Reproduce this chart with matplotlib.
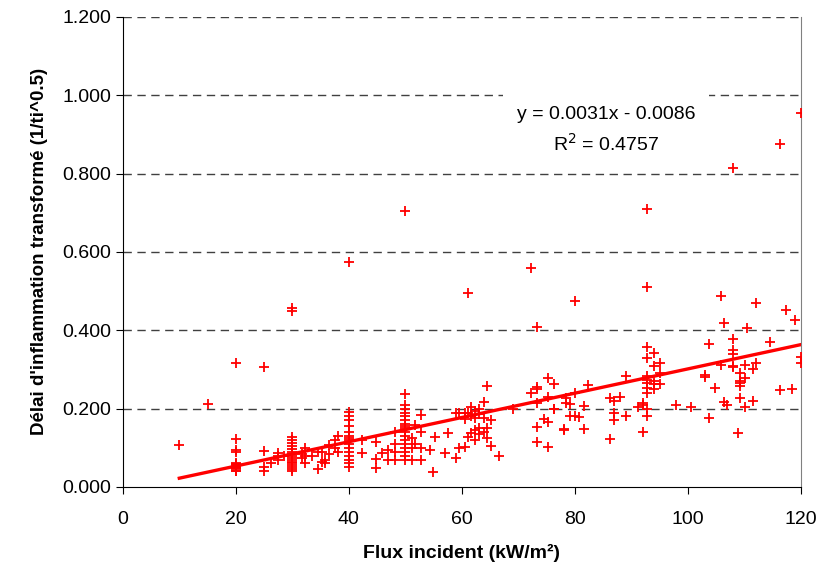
import matplotlib
matplotlib.use("Agg")
import matplotlib.pyplot as plt
import numpy as np

# flux incident values (kW/m2), one entry per column of points
group_flux = [10, 15, 20, 25, 26.3, 27.4, 28.5, 30, 31.7, 32.3, 33.5, 34.5, 35.2, 35.8,
              36.5, 37.5, 38, 40, 42.3, 44.8, 45.9, 47, 48.2, 50, 51.2, 51.7, 52.7,
              54.3, 54.9, 55.2, 57, 57.5, 59, 59.5, 60.5, 61.1, 61.7, 62.3, 63, 63.9,
              64.4, 65.2, 66.5, 69, 72.3, 73.3, 74.5, 75.3, 76.3, 78, 78.5, 79.2, 80,
              80.8, 81.6, 82.4, 86.2, 87, 88, 89, 91.2, 92.1, 92.8, 94, 95, 97.9,
              100.6, 103, 103.8, 104.8, 105.8, 106.4, 107, 108, 108.9, 109.3, 110.1,
              110.5, 111.6, 112.1, 114.5, 116.3, 117.3, 118.5, 119, 120]

# transformed ignition delay (1/ti^0.5) for each column
group_delay = [
    [0.108],
    [0.212],
    [0.317, 0.122, 0.095, 0.088, 0.062, 0.058, 0.055, 0.052, 0.05, 0.048, 0.045, 0.042, 0.04],
    [0.307, 0.093, 0.05, 0.04],
    [0.06],
    [0.086, 0.078, 0.07],
    [0.08],
    [0.458, 0.448, 0.128, 0.12, 0.112, 0.105, 0.098, 0.09, 0.085, 0.08, 0.075, 0.07,
     0.065, 0.06, 0.055, 0.05, 0.045, 0.04],
    [0.075, 0.085],
    [0.1, 0.06, 0.08],
    [0.078],
    [0.088, 0.045],
    [0.09, 0.065],
    [0.06, 0.07],
    [0.083, 0.108],
    [0.1, 0.12],
    [0.13, 0.088],
    [0.575, 0.192, 0.18, 0.17, 0.155, 0.14, 0.13, 0.125, 0.12, 0.11, 0.1, 0.09, 0.08,
     0.07, 0.06, 0.052],
    [0.12, 0.087],
    [0.116, 0.072, 0.048],
    [0.087],
    [0.095, 0.07],
    [0.11, 0.09, 0.07, 0.141],
    [0.705, 0.237, 0.21, 0.2, 0.19, 0.18, 0.17, 0.16, 0.155, 0.15, 0.14, 0.13, 0.12,
     0.11, 0.1, 0.09, 0.08, 0.07],
    [0.125, 0.1, 0.07],
    [0.158, 0.11],
    [0.184, 0.14, 0.1, 0.069],
    [0.094],
    [0.039],
    [0.128],
    [0.087],
    [0.139],
    [0.073, 0.189],
    [0.1, 0.19],
    [0.103, 0.173, 0.189],
    [0.494, 0.128, 0.19],
    [0.205, 0.182, 0.139],
    [0.195, 0.175, 0.146, 0.12],
    [0.2, 0.185, 0.15, 0.135],
    [0.218, 0.176, 0.14],
    [0.258, 0.15, 0.125],
    [0.17, 0.105],
    [0.079],
    [0.2],
    [0.558, 0.24],
    [0.408, 0.256, 0.25, 0.215, 0.152, 0.116],
    [0.173],
    [0.279, 0.23, 0.167, 0.103],
    [0.263, 0.2, 0.2],
    [0.147, 0.145],
    [0.226, 0.215],
    [0.18, 0.213],
    [0.475, 0.24, 0.18],
    [0.178],
    [0.147, 0.207],
    [0.26],
    [0.226, 0.122],
    [0.22, 0.19, 0.172],
    [0.23],
    [0.181, 0.283],
    [0.205],
    [0.214, 0.209, 0.141],
    [0.71, 0.511, 0.358, 0.33, 0.282, 0.273, 0.265, 0.252, 0.24, 0.2, 0.18],
    [0.341, 0.31, 0.27, 0.262, 0.25],
    [0.316, 0.29, 0.262],
    [0.209],
    [0.205],
    [0.286, 0.28],
    [0.365, 0.175],
    [0.252],
    [0.488, 0.311],
    [0.418, 0.218],
    [0.21],
    [0.815, 0.377, 0.35, 0.34, 0.31, 0.305],
    [0.139],
    [0.29, 0.27, 0.265, 0.257, 0.226],
    [0.311, 0.278, 0.205],
    [0.405],
    [0.3, 0.22],
    [0.47, 0.317],
    [0.371],
    [0.875, 0.248],
    [0.452],
    [0.25],
    [0.425],
    [0.955, 0.333, 0.317],
]

# trend line as printed on the chart
slope = 0.0031
intercept = -0.0086
r2 = 0.4757

x_ticks = [0, 20, 40, 60, 80, 100, 120]
y_ticks = [0.0, 0.2, 0.4, 0.6, 0.8, 1.0, 1.2]


def main():
    flux = []
    delay = []
    for fx, ys in zip(group_flux, group_delay):
        for y in ys:
            flux.append(fx)
            delay.append(y)
    flux = np.array(flux)
    delay = np.array(delay)

    plt.rcParams['font.family'] = ['Liberation Sans', 'DejaVu Sans']

    fig = plt.figure(figsize=(8.24, 5.62), dpi=100)
    ax = fig.add_axes([0.149, 0.1335, 0.823, 0.8365])

    for y in y_ticks[1:]:
        ax.axhline(y, color='#404040', lw=1.0, ls=(0, (6, 4)), zorder=1)

    ax.plot(flux, delay, '+', color='red', markersize=7, mew=1.3, zorder=3)

    xl = np.array([flux.min(), flux.max()])
    ax.plot(xl, slope * xl + intercept, color='red', lw=2.4, zorder=4)

    ax.text(85.5, 0.91, "y = 0.0031x - 0.0086\nR$^2$ = 0.4757" % (),
            ha='center', va='center', fontsize=14, linespacing=1.55, zorder=5,
            bbox=dict(facecolor='white', edgecolor='none', pad=10))

    ax.set_xlim(0, 120)
    ax.set_ylim(0, 1.2)
    ax.set_xticks(x_ticks)
    ax.set_yticks(y_ticks)
    ax.set_yticklabels(["%.3f" % v for v in y_ticks])
    ax.tick_params(labelsize=14, direction='out', length=5, color='black')
    ax.tick_params(axis='x', pad=12)

    ax.spines['top'].set_visible(False)
    ax.spines['right'].set_color('#808080')
    ax.spines['left'].set_color('black')
    ax.spines['bottom'].set_color('black')

    ax.set_xlabel("Flux incident (kW/m²)", fontsize=14, fontweight='bold', labelpad=12)
    ax.set_ylabel("Délai d'inflammation transformé (1/ti^0.5)", fontsize=13.5,
                  fontweight='bold', labelpad=10)

    fig.savefig("out.png", dpi=100)


if __name__ == "__main__":
    main()
